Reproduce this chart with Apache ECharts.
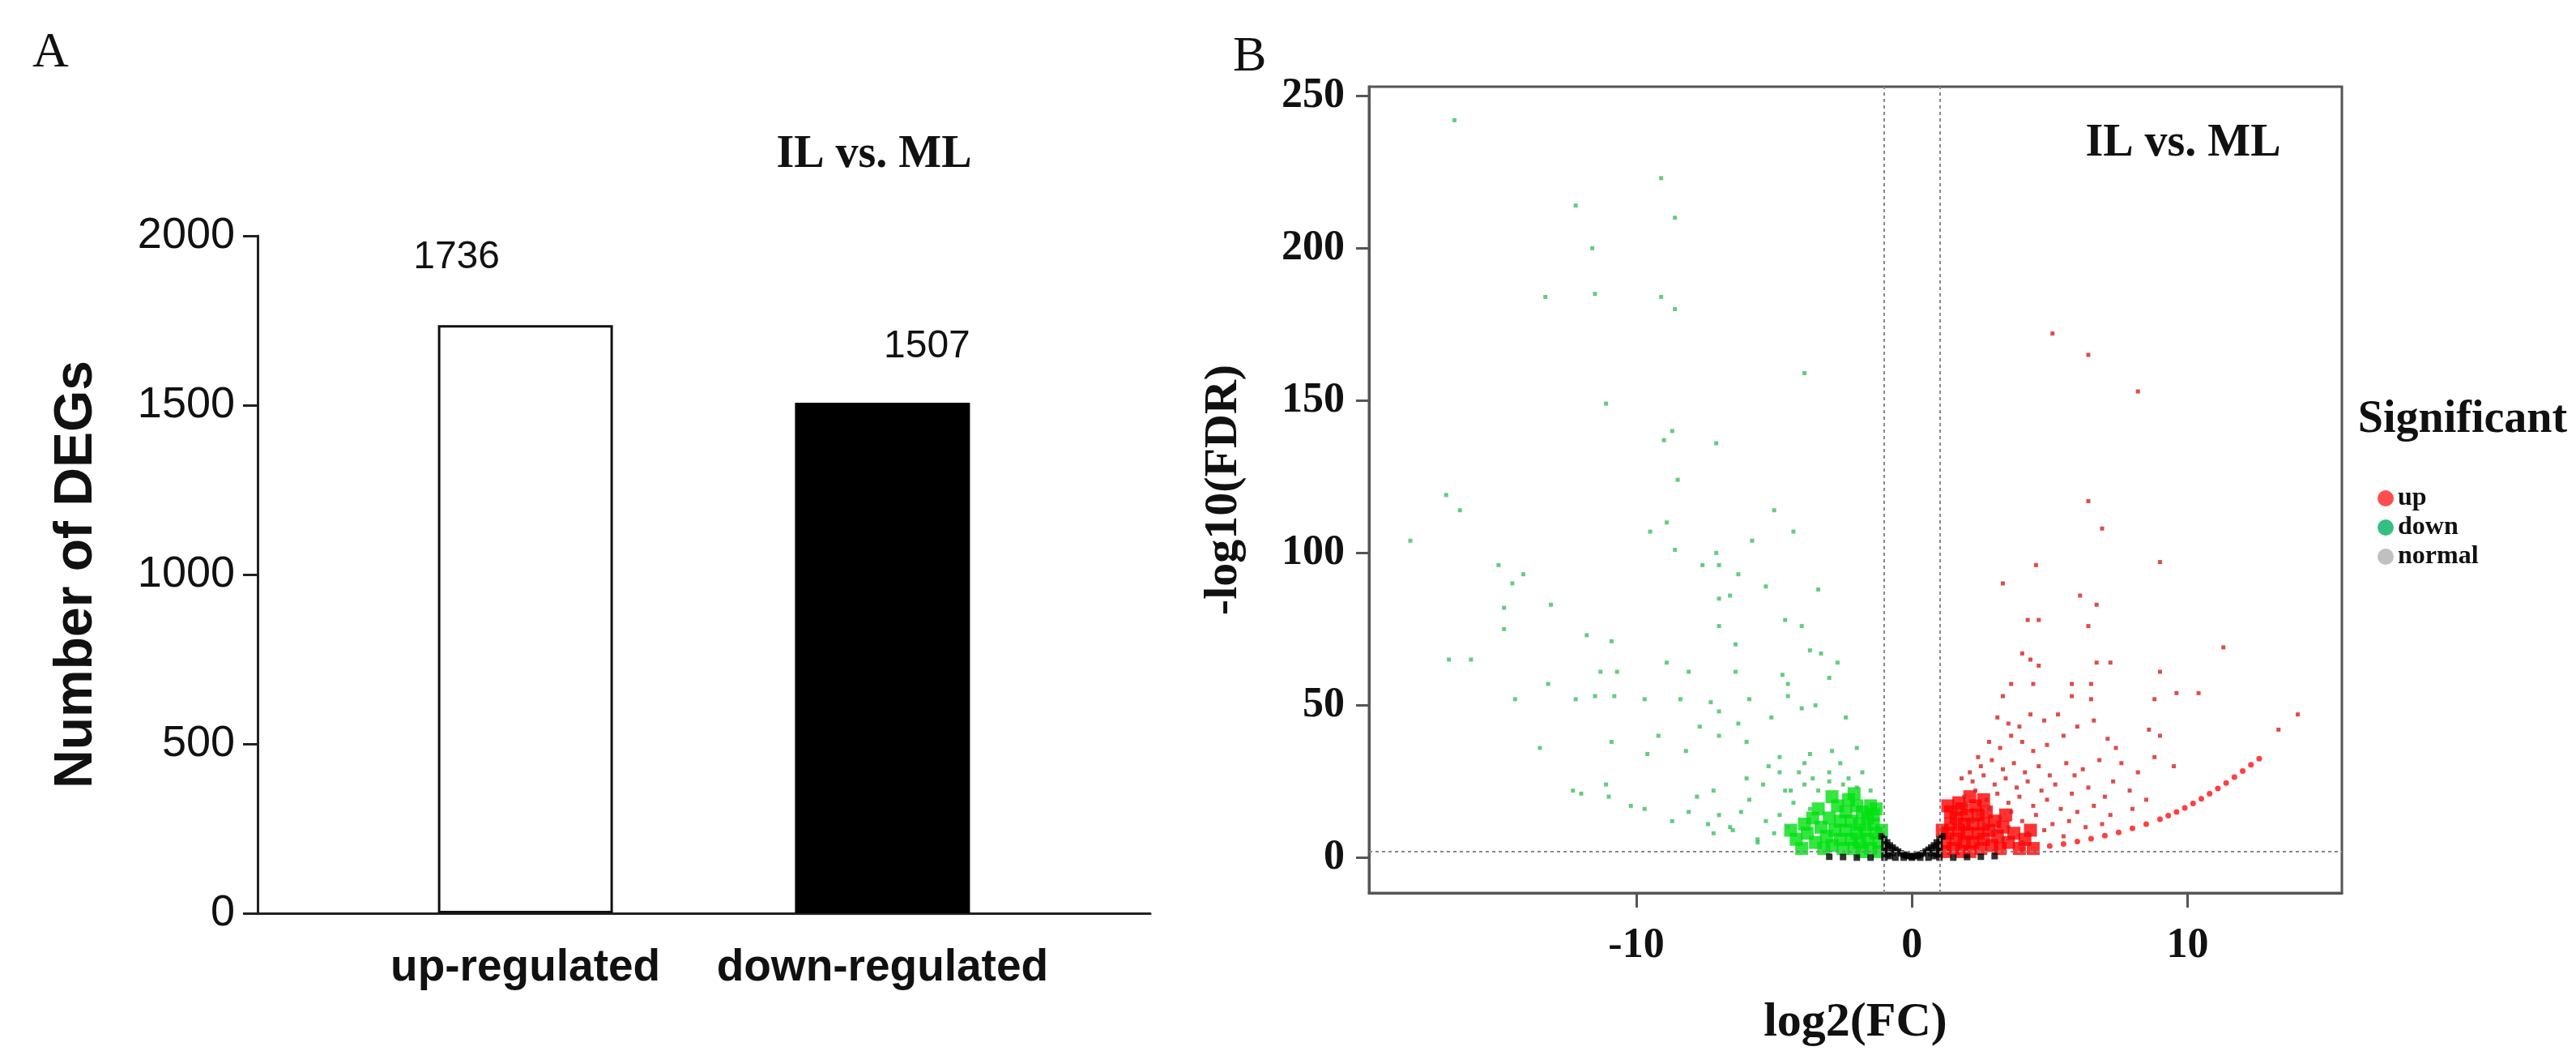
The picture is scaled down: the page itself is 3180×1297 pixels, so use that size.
<!DOCTYPE html>
<html>
<head>
<meta charset="utf-8">
<script src="https://cdn.jsdelivr.net/npm/echarts@6/dist/echarts.min.js"></script>
<style>
  html, body { margin: 0; padding: 0; background: #fff; }
  #main { width: 3180px; height: 1297px; }
</style>
</head>
<body>
<div id="main"></div>
<script>
// panel A
const barCategories = ['up-regulated', 'down-regulated'];
const barCounts = [1736, 1507];
const barTicks = [0, 500, 1000, 1500, 2000];

// panel B, points as [log2FC, -log10FDR]
const downSparse = [
  [-16.6,242],[-9.1,223],[-12.2,214],[-8.6,210],[-11.6,200],[-13.3,184],[-11.5,185],[-9.1,184],[-8.6,180],
  [-3.9,159],[-11.1,149],[-8.7,140],[-9.0,137],[-7.1,136],[-8.5,124],[-16.9,119],[-16.4,114],[-5.0,114],
  [-4.3,107],[-18.2,104],[-9.5,107],[-8.9,110],[-5.8,104],[-8.6,101],[-15.0,96],[-7.1,100],[-7.0,96],
  [-7.6,96],[-14.1,93],[-14.5,90],[-5.3,89],[-6.3,93],[-3.4,88],[-6.6,86],[-7.0,85],[-14.8,82],[-13.1,83],
  [-4.6,78],[-4.0,76],[-7.0,76],[-14.8,75],[-11.8,73],[-10.9,71],[-6.4,70],[-3.7,68],[-3.3,67],[-16.8,65],
  [-16.0,65],[-8.9,64],[-2.7,64],[-8.1,61],[-11.3,61],[-10.7,61],[-6.4,61],[-4.7,60],[-13.2,57],[-3.0,59],
  [-4.5,57],[-14.4,52],[-12.2,52],[-11.5,53],[-10.8,53],[-9.7,52],[-8.4,52],[-7.3,51],[-7.0,48],[-5.9,52],
  [-4.5,53],[-4.0,49],[-3.5,50],[-2.4,46],[-5.1,46],[-6.3,44],[-7.7,43],[-7.0,40],[-9.2,40],[-10.9,38],
  [-13.5,36],[-8.2,35],[-9.6,34],[-6.0,38],[-4.8,33],[-3.7,34],[-2.9,35],[-2.0,36],[-12.3,22],[-11.1,24],
  [-12.0,21],[-11.0,20],[-10.2,17],[-9.7,16],[-8.1,15],[-8.7,12],[-7.4,11],[-7.2,8],[-6.6,10],[-5.6,6],
  [-7.8,20],[-7.2,22],[-6.0,26],[-5.4,24],[-4.8,28],[-4.4,22],[-3.9,31],[-3.6,26],[-3.0,28],[-2.6,31],
  [-2.3,26],[-1.8,28],[-4.5,10],[-4.8,14],[-5.0,8],[-5.3,12],[-5.6,5],[-4.3,18],[-4.6,22],[-3.9,24],
  [-3.4,22],[-3.0,25],[-2.5,24],[-2.0,23],[-1.5,22],[-6.2,15],[-6.5,9],[-7.0,14],[-5.9,19],[-3.7,16],
  [-4.1,28],[-5.2,30]
];
const downDense = [
  [-1.2,2],[-1.2,5],[-1.3,8],[-1.4,11],[-1.5,3],[-1.6,6],[-1.6,13],[-1.7,9],[-1.8,2],[-1.8,15],[-1.9,5],
  [-1.9,11],[-2.0,8],[-2.0,17],[-2.1,3],[-2.2,6],[-2.2,12],[-2.3,19],[-2.4,9],[-2.4,15],[-2.5,3],[-2.6,6],
  [-2.6,12],[-2.7,17],[-2.8,9],[-2.9,4],[-3.0,13],[-3.1,7],[-3.2,3],[-3.3,10],[-3.5,5],[-3.6,13],[-3.8,8],
  [-4.0,3],[-4.2,6],[-1.4,14],[-1.5,17],[-2.9,20],[-1.1,9],[-1.3,16],[-3.4,16],[-4.4,9],[-3.9,11],[-2.1,21]
];
const upSparse = [
  [5.1,172],[6.4,165],[8.2,153],[6.4,117],[6.9,108],[4.5,96],[9.0,97],[3.3,90],[6.1,86],[6.7,83],[4.2,78],
  [4.6,78],[6.4,76],[11.3,69],[4.0,67],[4.3,65],[6.7,64],[7.2,64],[4.6,63],[9.0,61],[3.6,57],[4.4,57],
  [5.8,57],[6.5,57],[3.3,53],[5.8,53],[8.8,52],[9.6,54],[10.4,54],[14.0,47],[13.3,42],
  [3.1,46],[3.5,44],[3.9,43],[4.3,47],[4.8,45],[5.3,47],[2.8,38],[3.2,36],[3.6,40],[4.0,38],[4.4,35],
  [4.9,37],[5.5,40],[6.0,43],[6.6,45],[7.1,39],[7.4,36],[8.6,42],[9.0,40],[2.5,30],[2.9,32],[3.3,29],
  [3.7,31],[4.1,28],[4.6,30],[5.0,27],[5.6,31],[6.2,29],[6.8,32],[7.6,31],[8.2,28],[8.8,33],[9.5,30],
  [2.2,25],[2.6,27],[3.0,24],[3.4,26],[3.8,23],[4.2,25],[4.7,22],[5.2,24],[5.8,21],[6.4,23],[7.0,20],
  [7.9,22],[8.5,19],[1.9,20],[2.3,22],[2.7,19],[3.1,21],[3.5,18],[3.9,20],[4.4,17],[4.9,19],[5.4,16],
  [6.0,15],[6.6,17],[7.2,14],[1.6,16],[2.0,17],[2.4,14],[2.8,16],[3.2,13],[3.6,15],[4.0,12],[4.5,14],
  [5.1,11],[5.7,12],[6.3,10],[6.9,11],[3.0,9],[3.5,10],[4.2,8],[4.8,9],[5.5,7],[2.6,11],[2.2,12],[3.3,6],
  [4.0,5],[1.8,26],[2.1,28],[2.4,33],[6.5,52],[5.9,27],[7.3,25],[8.0,16]
];
const upDense = [
  [1.2,2],[1.2,5],[1.3,8],[1.4,11],[1.5,3],[1.6,6],[1.6,13],[1.7,9],[1.8,2],[1.8,16],[1.9,5],[1.9,11],
  [2.0,8],[2.0,14],[2.1,2],[2.2,5],[2.2,11],[2.3,17],[2.4,8],[2.4,14],[2.5,3],[2.6,6],[2.6,11],[2.7,15],
  [2.8,9],[2.9,4],[3.0,12],[3.1,7],[3.2,3],[3.3,10],[3.5,5],[3.7,8],[3.9,3],[4.1,6],[4.4,3],[1.4,15],
  [1.7,18],[2.1,20],[1.1,9],[1.3,17],[3.4,14],[4.3,9],[2.6,19]
];
const upCurve = [
  [2,1.5],[3,2],[4,2.8],[5,3.8],[5.5,4.5],[6,5.3],[6.5,6.2],[7,7.2],[7.5,8.3],[8,9.6],[8.5,11],[9,12.6],
  [9.3,13.8],[9.6,15],[9.9,16.3],[10.2,17.8],[10.5,19.3],[10.8,21],[11.1,22.7],[11.4,24.5],[11.7,26.4],
  [12,28.4],[12.3,30.5],[12.6,32.5]
];
const normalPts = [
  [-1.0,6],[-0.9,5],[-0.8,4],[-0.7,3.3],[-0.6,2.6],[-0.5,2],[-0.4,1.4],[-0.3,1],[-0.2,0.7],[-0.1,0.5],[0,0.4],
  [0.1,0.5],[0.2,0.7],[0.3,1],[0.4,1.4],[0.5,2],[0.6,2.6],[0.7,3.3],[0.8,4],[0.9,5],[1.0,6],[-1.0,2],[-0.9,1],
  [-0.8,0.5],[0.8,0.5],[0.9,1],[1.0,2],[-1.0,0],[-0.6,0],[-0.3,0],[0,0],[0.3,0],[0.6,0],[1.0,0],[-1.5,0],
  [-2.0,0],[-2.5,0.2],[-3.0,0.3],[1.5,0],[2.0,0.2],[2.5,0.3],[3.0,0.5],[-1.0,4],[1.0,4],[-0.9,3],[0.9,3],
  [-0.7,1.5],[0.7,1.5],[-1.1,7],[1.1,7]
];
const fcCut = [-1, 1];
const fdrCut = 2;
const volcanoTicksX = [-10, 0, 10];
const volcanoTicksY = [0, 50, 100, 150, 200, 250];

// pad the two bars with empty slots so they sit where the original puts them
const padCats = ['', barCategories[0], '', barCategories[1], ''];
const padVals = [null, barCounts[0], null, barCounts[1], null];

const chart = echarts.init(document.getElementById('main'));
const serif = 'Liberation Serif';
const sans = 'Liberation Sans';

const option = {
  animation: false,
  backgroundColor: '#fff',
  grid: [
    { left: 318, top: 291, width: 1102, height: 836 },
    { left: 1690, top: 107, width: 1201, height: 1004, show: true, borderColor: '#555', borderWidth: 3 }
  ],
  xAxis: [
    {
      gridIndex: 0, type: 'category', data: padCats,
      axisLine: { lineStyle: { color: '#222', width: 3 } },
      axisTick: { alignWithLabel: true, length: 20, lineStyle: { color: '#222', width: 3 },
        interval: (i, v) => v !== '' },
      axisLabel: { interval: 0, margin: 40, fontFamily: sans, fontWeight: 'bold', fontSize: 55, color: '#111' }
    },
    {
      gridIndex: 1, type: 'value', min: -19.7, max: 15.6,
      name: 'log2(FC)', nameLocation: 'middle', nameGap: 130,
      nameTextStyle: { fontFamily: serif, fontWeight: 'bold', fontSize: 60, color: '#111' },
      splitLine: { show: false },
      axisLine: { onZero: false, lineStyle: { color: '#555', width: 3 } },
      axisTick: { length: 18, lineStyle: { color: '#555', width: 3 }, customValues: volcanoTicksX },
      axisLabel: { margin: 40, fontFamily: serif, fontWeight: 'bold', fontSize: 52, color: '#111',
        customValues: volcanoTicksX }
    }
  ],
  yAxis: [
    {
      gridIndex: 0, type: 'value', min: barTicks[0], max: barTicks[barTicks.length - 1], interval: 500,
      name: 'Number of DEGs', nameLocation: 'middle', nameGap: 190,
      nameTextStyle: { fontFamily: sans, fontWeight: 'bold', fontSize: 66, color: '#111' },
      splitLine: { show: false },
      axisLine: { show: true, lineStyle: { color: '#222', width: 3 } },
      axisTick: { show: true, length: 18, lineStyle: { color: '#222', width: 3 } },
      axisLabel: { margin: 28, fontFamily: sans, fontSize: 54, color: '#111', formatter: v => String(v) }
    },
    {
      gridIndex: 1, type: 'value', min: -11.6, max: 253,
      name: '-log10(FDR)', nameLocation: 'middle', nameGap: 150,
      nameTextStyle: { fontFamily: serif, fontWeight: 'bold', fontSize: 58, color: '#111' },
      splitLine: { show: false },
      axisLine: { onZero: false, lineStyle: { color: '#555', width: 3 } },
      axisTick: { length: 16, lineStyle: { color: '#555', width: 3 }, customValues: volcanoTicksY },
      axisLabel: { margin: 30, fontFamily: serif, fontWeight: 'bold', fontSize: 52, color: '#111',
        customValues: volcanoTicksY }
    }
  ],
  legend: {
    orient: 'vertical', left: 2930, top: 594, itemGap: 4, itemWidth: 20, itemHeight: 20,
    icon: 'circle',
    textStyle: { fontFamily: serif, fontWeight: 'bold', fontSize: 32, color: '#111' },
    data: [
      { name: 'up', itemStyle: { color: '#ff2020' } },
      { name: 'down', itemStyle: { color: '#00b060' } },
      { name: 'normal', itemStyle: { color: '#b0b0b0' } }
    ]
  },
  graphic: [
    { type: 'text', left: 40, top: 35, style: { text: 'A', fontFamily: serif, fontSize: 62, fill: '#111' } },
    { type: 'text', left: 1522, top: 40, style: { text: 'B', fontFamily: serif, fontSize: 62, fill: '#111' } },
    { type: 'text', x: 1079, y: 192, style: { text: 'IL vs. ML', fontFamily: serif, fontWeight: 'bold',
      fontSize: 56, fill: '#111', align: 'center', verticalAlign: 'middle' } },
    { type: 'text', x: 2695, y: 178, style: { text: 'IL vs. ML', fontFamily: serif, fontWeight: 'bold',
      fontSize: 56, fill: '#111', align: 'center', verticalAlign: 'middle' } },
    { type: 'text', x: 3040, y: 519, style: { text: 'Significant', fontFamily: serif, fontWeight: 'bold',
      fontSize: 56, fill: '#111', align: 'center', verticalAlign: 'middle' } }
  ],
  series: [
    {
      type: 'bar', xAxisIndex: 0, yAxisIndex: 0, barWidth: '98%',
      data: padVals.map((v, i) => v == null ? null : {
        value: v,
        itemStyle: i === 1 ? { color: '#fff', borderColor: '#111', borderWidth: 3 } : { color: '#000' },
        label: { show: true, position: 'top', distance: i === 1 ? 60 : 45, offset: i === 1 ? [-85, 0] : [55, 0],
          fontFamily: sans, fontSize: 48, color: '#111' }
      })
    },
    {
      name: 'normal', type: 'scatter', xAxisIndex: 1, yAxisIndex: 1, symbol: 'rect', symbolSize: 8,
      itemStyle: { color: '#000' }, data: normalPts, z: 3,
      markLine: {
        silent: true, symbol: 'none', label: { show: false },
        lineStyle: { color: '#888', type: [4, 4], width: 2 },
        data: [{ xAxis: fcCut[0] }, { xAxis: fcCut[1] }, { yAxis: fdrCut }]
      }
    },
    { name: 'down', type: 'scatter', xAxisIndex: 1, yAxisIndex: 1, symbol: 'rect', symbolSize: 16,
      itemStyle: { color: '#00e010' }, data: downDense, z: 2 },
    { name: 'down', type: 'scatter', xAxisIndex: 1, yAxisIndex: 1, symbol: 'rect', symbolSize: 5,
      itemStyle: { color: '#3cc060' }, data: downSparse, z: 2 },
    { name: 'up', type: 'scatter', xAxisIndex: 1, yAxisIndex: 1, symbol: 'rect', symbolSize: 16,
      itemStyle: { color: '#ff0000' }, data: upDense, z: 2 },
    { name: 'up', type: 'scatter', xAxisIndex: 1, yAxisIndex: 1, symbol: 'rect', symbolSize: 5,
      itemStyle: { color: '#d42020' }, data: upSparse, z: 2 },
    { name: 'up', type: 'scatter', xAxisIndex: 1, yAxisIndex: 1, symbol: 'circle', symbolSize: 7,
      itemStyle: { color: '#ff1010' }, data: upCurve, z: 2 }
  ]
};

chart.setOption(option);
</script>
</body>
</html>
